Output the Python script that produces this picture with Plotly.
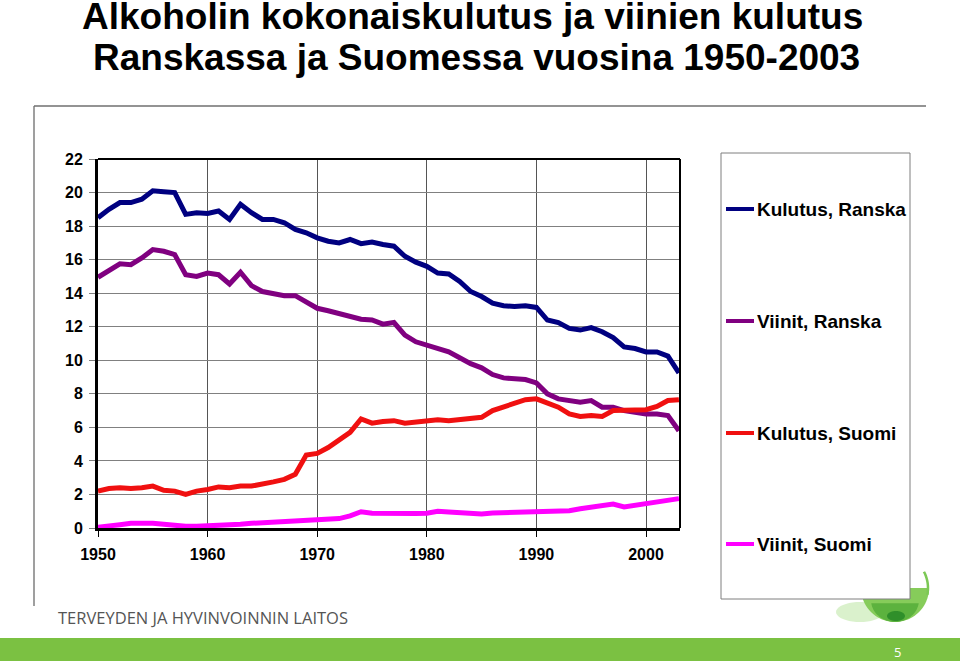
import math
import plotly.graph_objects as go

years = list(range(1950, 2004))

kulutus_ranska = [18.5, 19.0, 19.4, 19.4, 19.6, 20.1, 20.05, 20.0, 18.7, 18.8,
                  18.75, 18.9, 18.4, 19.3, 18.8, 18.4, 18.4, 18.2, 17.8, 17.6,
                  17.3, 17.1, 17.0, 17.2, 16.95, 17.05, 16.9, 16.8, 16.2, 15.85,
                  15.6, 15.2, 15.15, 14.7, 14.1, 13.8, 13.4, 13.25, 13.2, 13.25,
                  13.15, 12.4, 12.25, 11.9, 11.8, 11.95, 11.7, 11.35, 10.8, 10.7,
                  10.5, 10.5, 10.25, 9.25]
viinit_ranska = [14.95, 15.35, 15.75, 15.7, 16.1, 16.6, 16.5, 16.3, 15.1, 15.0,
                 15.2, 15.1, 14.55, 15.25, 14.45, 14.1, 14.0, 13.85, 13.85, 13.5,
                 13.1, 12.95, 12.8, 12.6, 12.45, 12.4, 12.15, 12.25, 11.5, 11.1,
                 10.9, 10.65, 10.5, 10.15, 9.8, 9.55, 9.15, 8.95, 8.9, 8.85,
                 8.65, 8.0, 7.7, 7.6, 7.5, 7.6, 7.2, 7.2, 7.0, 6.9,
                 6.8, 6.8, 6.7, 5.8]
kulutus_suomi = [2.2, 2.35, 2.4, 2.35, 2.4, 2.5, 2.25, 2.2, 2.0, 2.2,
                 2.3, 2.45, 2.4, 2.5, 2.5, 2.6, 2.75, 2.9, 3.2, 4.35,
                 4.45, 4.8, 5.25, 5.7, 6.5, 6.25, 6.35, 6.4, 6.25, 6.3,
                 6.4, 6.45, 6.4, 6.45, 6.55, 6.6, 7.0, 7.2, 7.4, 7.65,
                 7.7, 7.45, 7.2, 6.8, 6.65, 6.7, 6.65, 7.0, 7.0, 7.05,
                 7.05, 7.25, 7.6, 7.65]
viinit_suomi = [0.05, 0.1, 0.2, 0.28, 0.3, 0.28, 0.22, 0.15, 0.1, 0.1,
                0.12, 0.15, 0.18, 0.22, 0.28, 0.32, 0.38, 0.4, 0.43, 0.46,
                0.5, 0.54, 0.56, 0.72, 0.97, 0.88, 0.86, 0.84, 0.86, 0.87,
                0.88, 1.0, 0.95, 0.9, 0.87, 0.84, 0.9, 0.92, 0.95, 0.97,
                0.97, 1.0, 1.02, 1.03, 1.15, 1.23, 1.31, 1.43, 1.25, 1.35,
                1.47, 1.57, 1.67, 1.75]

series_names = ["Kulutus, Ranska", "Viinit, Ranska", "Kulutus, Suomi", "Viinit, Suomi"]
series_values = [kulutus_ranska, viinit_ranska, kulutus_suomi, viinit_suomi]
series_colors = ["#000080", "#800080", "#F01010", "#FF00FF"]

title_line1 = "Alkoholin kokonaiskulutus ja viinien kulutus"
title_line2 = "Ranskassa ja Suomessa vuosina 1950-2003"
footer_text = "TERVEYDEN JA HYVINVOINNIN LAITOS"
page_number = "5"

x_ticks = [1950, 1960, 1970, 1980, 1990, 2000]
y_ticks = list(range(0, 23, 2))

# layout geometry (pixels)
W, H = 960, 661
L, R, T, B = 98, 680, 159, 528


def xp(x):
    return (x - L) / (R - L)


def yp(y):
    return (B - y) / (B - T)


def ellipse_path(cx, cy, rx, ry, a0, a1, n=40, close=True):
    pts = []
    for i in range(n + 1):
        a = a0 + (a1 - a0) * i / n
        pts.append((xp(cx + rx * math.cos(a)), yp(cy + ry * math.sin(a))))
    p = "M " + " L ".join("{:.5f},{:.5f}".format(x, y) for x, y in pts)
    return p + (" Z" if close else "")


fig = go.Figure()
for name, vals, col in zip(series_names, series_values, series_colors):
    fig.add_trace(go.Scatter(x=years, y=vals, mode="lines", name=name,
                             line=dict(color=col, width=5), showlegend=False))

shapes = []
annotations = []

# outer slide frame
shapes.append(dict(type="line", xref="paper", yref="paper", x0=xp(34), x1=xp(34),
                   y0=yp(106), y1=yp(606), line=dict(color="#7f7f7f", width=1.5)))
shapes.append(dict(type="line", xref="paper", yref="paper", x0=xp(34), x1=xp(926),
                   y0=yp(106), y1=yp(106), line=dict(color="#6f6f6f", width=1.5)))

# plot border top/right
shapes.append(dict(type="line", xref="paper", yref="paper", x0=0, x1=1, y0=1, y1=1,
                   line=dict(color="black", width=2)))
shapes.append(dict(type="line", xref="paper", yref="paper", x0=1, x1=1, y0=0, y1=1,
                   line=dict(color="black", width=2)))

# logo (green bowl) - drawn beneath legend box
shapes.append(dict(type="path", xref="paper", yref="paper",
                   path=ellipse_path(860, 612, 24, 10, 0, 2 * math.pi),
                   fillcolor="rgba(150,215,110,0.35)", line=dict(width=0)))
shapes.append(dict(type="path", xref="paper", yref="paper",
                   path=ellipse_path(895, 588, 34, 34, 0, math.pi),
                   fillcolor="#86cc5a", line=dict(width=0)))
shapes.append(dict(type="path", xref="paper", yref="paper",
                   path=ellipse_path(895, 600, 24, 22, 0.15, math.pi - 0.15),
                   fillcolor="#5cb23e", line=dict(width=0)))
shapes.append(dict(type="path", xref="paper", yref="paper",
                   path=ellipse_path(896, 616, 9, 5, 0, 2 * math.pi),
                   fillcolor="#2f8f2a", line=dict(width=0)))
shapes.append(dict(type="path", xref="paper", yref="paper",
                   path=ellipse_path(895, 588, 33, 34, -0.5, 0.2, n=10, close=False),
                   line=dict(color="#7cc855", width=2.5)))

# legend box
shapes.append(dict(type="rect", xref="paper", yref="paper", x0=xp(721), x1=xp(910),
                   y0=yp(599), y1=yp(153), fillcolor="white",
                   line=dict(color="#7f7f7f", width=1)))
legend_y = [209, 321, 433, 544]
for name, col, ly in zip(series_names, series_colors, legend_y):
    shapes.append(dict(type="line", xref="paper", yref="paper", x0=xp(726), x1=xp(754),
                       y0=yp(ly), y1=yp(ly), line=dict(color=col, width=4)))
    annotations.append(dict(text="<b>" + name + "</b>", xref="paper", yref="paper",
                            x=xp(755), y=yp(ly), xanchor="left", yanchor="middle",
                            showarrow=False, font=dict(family="Arial, Liberation Sans", size=19, color="black")))

# green bottom bar
shapes.append(dict(type="rect", xref="paper", yref="paper", x0=xp(0), x1=xp(960),
                   y0=yp(661), y1=yp(638), fillcolor="#7BC142", line=dict(width=0)))

# titles
annotations.append(dict(text="<b>" + title_line1 + "</b>", xref="paper", yref="paper",
                        x=xp(472), y=yp(17), xanchor="center", yanchor="middle", showarrow=False,
                        font=dict(family="Arial, Liberation Sans", size=37, color="black")))
annotations.append(dict(text="<b>" + title_line2 + "</b>", xref="paper", yref="paper",
                        x=xp(476), y=yp(58), xanchor="center", yanchor="middle", showarrow=False,
                        font=dict(family="Arial, Liberation Sans", size=37, color="black")))
annotations.append(dict(text=footer_text, xref="paper", yref="paper",
                        x=xp(56), y=yp(617), xanchor="left", yanchor="middle", showarrow=False,
                        font=dict(family="Open Sans", size=16.5, color="#555555")))
annotations.append(dict(text=page_number, xref="paper", yref="paper",
                        x=xp(897), y=yp(652), xanchor="center", yanchor="middle", showarrow=False,
                        font=dict(family="Open Sans", size=13, color="white")))

fig.update_layout(
    width=W, height=H,
    margin=dict(l=L, r=W - R, t=T, b=H - B, pad=0),
    paper_bgcolor="white", plot_bgcolor="white",
    shapes=shapes, annotations=annotations,
    xaxis=dict(range=[1950, 2003.1], tickvals=x_ticks, ticktext=[str(v) for v in x_ticks],
               showgrid=True, gridcolor="#555555", gridwidth=1,
               showline=True, linecolor="black", linewidth=3,
               ticks="outside", ticklen=6, tickcolor="black", tickwidth=1,
               ticklabelstandoff=4,
               tickfont=dict(family="Arial, Liberation Sans", size=16, color="black", weight="bold"),
               zeroline=False, fixedrange=True),
    yaxis=dict(range=[0, 22], tickvals=y_ticks, ticktext=[str(v) for v in y_ticks],
               showgrid=True, gridcolor="#808080", gridwidth=1,
               showline=True, linecolor="black", linewidth=3,
               ticks="outside", ticklen=6, tickcolor="#808080", tickwidth=1,
               ticklabelstandoff=3,
               tickfont=dict(family="Arial, Liberation Sans", size=16, color="black", weight="bold"),
               zeroline=False, fixedrange=True),
)

fig.write_html("out.html", config={"displayModeBar": False})
